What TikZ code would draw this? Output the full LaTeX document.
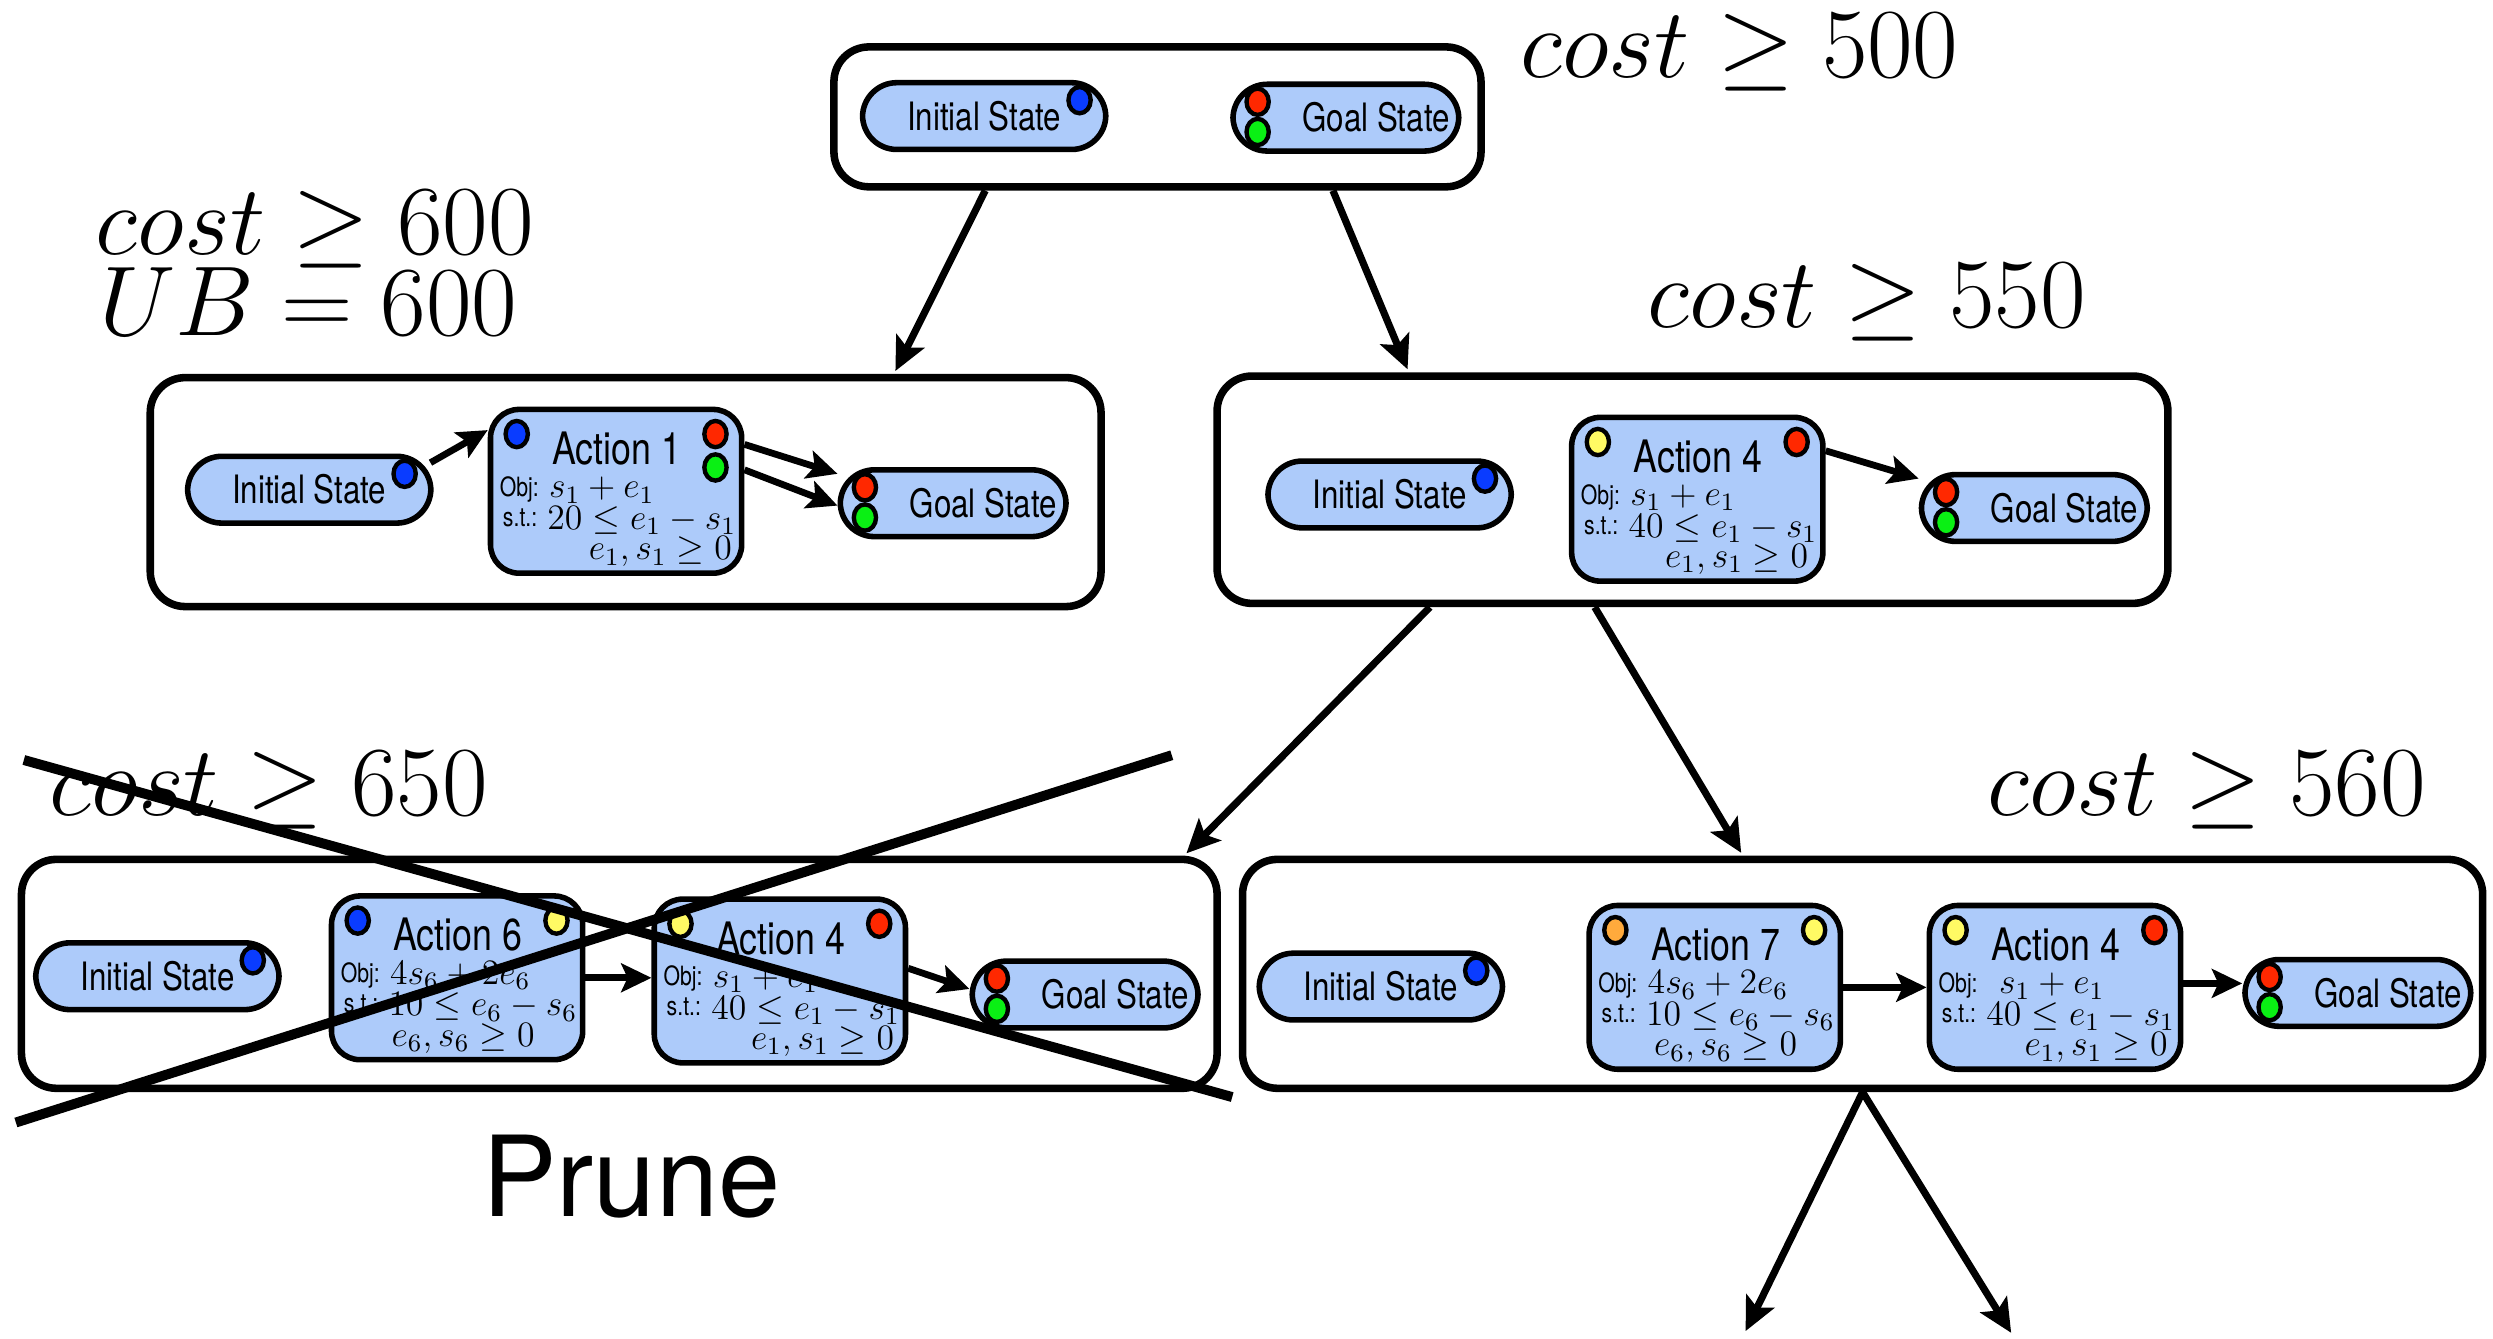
\RequirePackage{fix-cm}
\documentclass[tikz,border=0pt]{standalone}
\usepackage{fontspec}
\newfontfamily\helv[FakeStretch=0.8]{TeX Gyre Heros}
\newfontfamily\helvn{TeX Gyre Heros}
\usetikzlibrary{arrows.meta,calc,shapes.geometric}
\definecolor{fillb}{RGB}{173,203,250}
\definecolor{cblue}{RGB}{10,60,255}
\definecolor{cred}{RGB}{255,40,0}
\definecolor{cgreen}{RGB}{10,240,20}
\definecolor{cyellow}{RGB}{255,250,100}
\definecolor{corange}{RGB}{255,170,60}
\tikzset{
  outer/.style={draw, line width=0.95mm, rounded corners=4.4mm, inner sep=0pt},
  pill/.style={draw, fill=fillb, line width=0.7mm, rounded corners=4.3mm, minimum height=8.4mm, inner sep=0pt},
  actbox/.style={draw, fill=fillb, line width=0.7mm, rounded corners=3.6mm, minimum width=31.6mm, minimum height=20.6mm, inner sep=0pt},
  dotn/.style={draw, ellipse, line width=0.55mm, minimum width=2.8mm, minimum height=3.3mm, inner sep=0pt},
  stxt/.style={font=\helv\fontsize{14}{16}\selectfont, inner sep=0pt},
  ttxt/.style={font=\helv\fontsize{16}{18}\selectfont, inner sep=0pt},
  smalltxt/.style={font=\helv\fontsize{9.5}{11}\selectfont, inner sep=0pt, anchor=base west},
  mtxt/.style={font=\fontsize{12.8}{14}\selectfont, inner sep=0pt, anchor=base west},
  bigm/.style={font=\fontsize{35.5}{40}\selectfont, inner sep=0pt, anchor=base west},
  arr/.style={line width=0.9mm, -{Stealth[length=4.2mm,width=3.9mm,inset=0.9mm]}, shorten >=0.4mm},
  iarr/.style={line width=0.85mm, -{Stealth[length=3.8mm,width=3.6mm,inset=0.8mm]}},
  crossl/.style={line width=1.25mm}
}
\newcommand{\initpill}[3]{%
  \node[pill, minimum width=30.6mm] (#1) at (#2,#3) {};
  \node[stxt] (#1-t) at (#2,#3) {Initial State};
  \node[dotn, fill=cblue] (#1-d) at ($(#1.center)+(60,-10)$) {};
}
\newcommand{\goalpill}[3]{%
  \node[pill, minimum width=28.4mm] (#1) at (#2,#3) {};
  \node[stxt] (#1-t) at ($(#1.center)+(19,0)$) {Goal State};
  \node[dotn, fill=cred] (#1-r) at ($(#1.center)+(-55.5,-10)$) {};
  \node[dotn, fill=cgreen] (#1-g) at ($(#1.center)+(-55.5,9)$) {};
}
\def\thirdoff{61}
\def\objoff{38}
\newcommand{\actbox}[9]{%
  \node[actbox] (#1) at ({#2+80.5},{#3+53}) {};
  \node[dotn, fill=#5] (#1-l) at ({#2+18},{#3+17}) {};
  \node[dotn, fill=#6] (#1-r) at ({#2+143},{#3+17}) {};
  \node[ttxt] (#1-t) at ({#2+81},{#3+26}) {#4};
  \node[smalltxt] (#1-ol) at ({#2+7},{#3+56}) {Obj:};
  \node[mtxt] (#1-o) at ({#2+\objoff},{#3+57}) {$#7$};
  \node[smalltxt] (#1-sl) at ({#2+9},{#3+75}) {s.t.:};
  \node[mtxt] (#1-s) at ({#2+37},{#3+77}) {$#8$};
  \node[mtxt] (#1-c) at ({#2+\thirdoff},{#3+96}) {$#9$};
}
\begin{document}
\begin{tikzpicture}[x=0.2mm,y=-0.2mm]
\useasboundingbox (0,0) rectangle (1568,842);

% outer boxes
\node[outer, minimum width=81.4mm, minimum height=17.6mm] (b1) at (728,73.5) {};
\node[outer, minimum width=119.6mm, minimum height=28.8mm] (b2) at (393.5,309.5) {};
\node[outer, minimum width=119.6mm, minimum height=28.6mm] (b3) at (1064.5,308) {};
\node[outer, minimum width=150.4mm, minimum height=28.8mm] (b4) at (389.5,612.5) {};
\node[outer, minimum width=156.0mm, minimum height=28.8mm] (b5) at (1171.5,612.5) {};

% cost labels
\node[bigm] (c1) at (956,49) {$cost \geq 500$};
\node[bigm] (c2) at (60,160) {$cost \geq 600$};
\node[bigm] (c2b) at (62,211) {$UB = 600$};
\node[bigm] (c3) at (1036,206) {$cost \geq 550$};
\node[bigm] (c4) at (31,513) {$cost \geq 650$};
\node[bigm] (c5) at (1250,513) {$cost \geq 560$};

% top box
\initpill{i1}{619}{73}
\goalpill{g1}{846.5}{74}

% box 2
\initpill{i2}{194.5}{308}
\def\thirdoff{63}
\actbox{a1}{307}{256}{Action 1}{cblue}{cred}{s_1+e_1}{20\leq e_1-s_1}{e_1,s_1\geq 0}
\node[dotn, fill=cgreen] (a1-g) at (450,294) {};
\goalpill{g2}{599.5}{316.5}
\draw[iarr] ($(i2.east)+(-2,-17)$) -- ($(a1.west)+(0,-38.5)$);
\draw[iarr] ($(a1.east)+(0,-29.5)$) -- ($(g2.west)+(0,-18.5)$);
\draw[iarr] ($(a1.east)+(0,-13.5)$) -- ($(g2.west)+(0,1.5)$);

% box 3
\initpill{i3}{874}{311}
\def\thirdoff{60}
\actbox{a4b}{987}{261}{Action 4}{cyellow}{cred}{s_1+e_1}{40\leq e_1-s_1}{e_1,s_1\geq 0}
\goalpill{g3}{1279.5}{319.5}
\draw[iarr] ($(a4b.east)+(0,-30.5)$) -- ($(g3.west)+(0,-18.5)$);

% box 4
\initpill{i4}{99}{614}
\def\thirdoff{39}
\actbox{a6}{207}{562}{Action 6}{cblue}{cyellow}{4s_6+2e_6}{10\leq e_6-s_6}{e_6,s_6\geq 0}
\def\thirdoff{62}
\actbox{a4c}{410}{564}{Action 4}{cyellow}{cred}{s_1+e_1}{40\leq e_1-s_1}{e_1,s_1\geq 0}
\goalpill{g4}{682.5}{625.5}
\draw[iarr] (a6.east) -- (a6.east -| a4c.west);
\draw[iarr] ($(a4c.east)+(0,-8)$) -- ($(g4.west)+(0,-3.5)$);

% box 5
\initpill{i5}{868.5}{620.5}
\def\thirdoff{42}
\actbox{a7}{998}{568}{Action 7}{corange}{cyellow}{4s_6+2e_6}{10\leq e_6-s_6}{e_6,s_6\geq 0}
\def\thirdoff{61}
\def\objoff{45}
\actbox{a4d}{1212}{568}{Action 4}{cyellow}{cred}{s_1+e_1}{40\leq e_1-s_1}{e_1,s_1\geq 0}
\def\objoff{38}
\goalpill{g5}{1483}{624.5}
\draw[iarr] (a7.east) -- (a7.east -| a4d.west);
\coordinate (p5) at ($(a4d.east)+(0,-2.5)$);
\draw[iarr] (p5) -- (p5 -| g5.west);

% tree arrows
\draw[arr] ($(b1.south west)!0.237!(b1.south east)$) -- ($(b2.north west)!0.780!(b2.north east)$);
\draw[arr] ($(b1.south west)!0.768!(b1.south east)$) -- ($(b3.north west)!0.204!(b3.north east)$);
\draw[arr] ($(b3.south west)!0.226!(b3.south east)$) -- ($(b4.north west)!0.9695!(b4.north east)$);
\draw[arr] ($(b3.south west)!0.398!(b3.south east)$) -- ($(b5.north west)!0.404!(b5.north east)$);
\coordinate (d1) at (1097,839);
\coordinate (d2) at (1266,840);
\draw[arr] (b5.south) -- (d1);
\draw[arr] (b5.south) -- (d2);

% prune cross
\coordinate (x1) at (15,478);
\coordinate (x2) at (775,690);
\coordinate (x3) at (10,706);
\coordinate (x4) at (737,475);
\draw[crossl] (x1) -- (x2);
\draw[crossl] (x3) -- (x4);
\node[font=\helvn\fontsize{40}{44}\selectfont, inner sep=0pt] (prune) at (397,740) {Prune};
\end{tikzpicture}
\end{document}
